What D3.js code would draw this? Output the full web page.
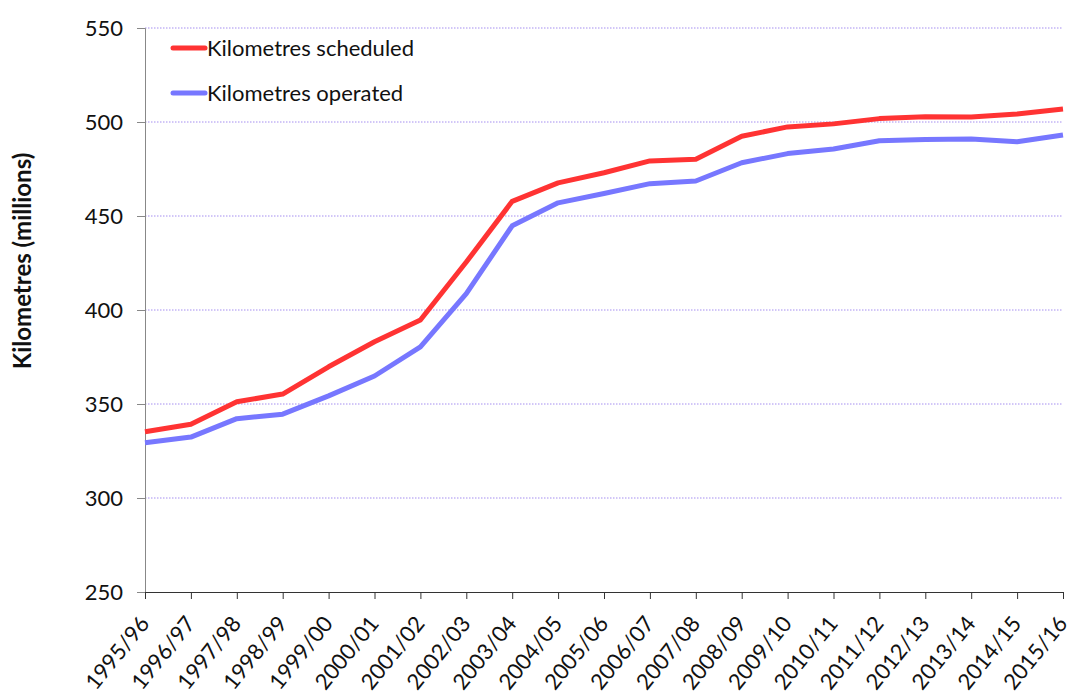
<!DOCTYPE html>
<html><head><meta charset="utf-8">
<script src="https://cdn.jsdelivr.net/npm/d3@7"></script>
<style>body{margin:0;background:#fff}svg{display:block}text{font-family:Lato,"Open Sans",sans-serif;fill:#111}</style>
</head><body><svg id="c" width="1071" height="693"></svg>
<script>
const categories=["1995/96","1996/97","1997/98","1998/99","1999/00","2000/01","2001/02","2002/03","2003/04","2004/05","2005/06","2006/07","2007/08","2008/09","2009/10","2010/11","2011/12","2012/13","2013/14","2014/15","2015/16"];
const scheduled=[335.2,339.2,351.2,355.3,369.8,383.1,394.7,425.5,457.8,467.6,473.0,479.3,480.2,492.4,497.4,499.0,501.8,502.8,502.7,504.3,506.9];
const operated=[329.4,332.4,342.2,344.6,354.3,364.9,380.4,408.7,444.8,457.0,462.0,467.2,468.6,478.3,483.2,485.6,490.0,490.7,491.0,489.5,493.1];
const yTicks=[250,300,350,400,450,500,550];
const seriesNames=["Kilometres scheduled","Kilometres operated"];
const colors=["#ff3333","#7777ff"];

const svg=d3.select("#c");
const m={l:145,r:1063,t:28,b:592};
const x=d3.scalePoint().domain(categories).range([m.l,m.r]);
const y=d3.scaleLinear().domain([250,550]).range([m.b,m.t]);

// grid
svg.append("g").selectAll("line").data(yTicks.filter(d=>d>250)).join("line")
 .attr("x1",m.l).attr("x2",m.r).attr("y1",d=>y(d)).attr("y2",d=>y(d))
 .attr("stroke","#a58ef0").attr("stroke-width",1).attr("stroke-dasharray","1.5,1.5");

// y axis
const ya=svg.append("g").attr("transform",`translate(${m.l},0)`)
 .call(d3.axisLeft(y).tickValues(yTicks).tickSize(8).tickPadding(14));
ya.select(".domain").attr("stroke","#888");
ya.selectAll(".tick line").attr("stroke","#888");
ya.selectAll(".tick text").style("font-size","22px").attr("fill","#111");

// x axis
const xa=svg.append("g").attr("transform",`translate(0,${m.b})`)
 .call(d3.axisBottom(x).tickSize(7).tickSizeOuter(0));
xa.select(".domain").attr("stroke","#333");
xa.selectAll(".tick line").attr("stroke","#333");
xa.selectAll(".tick text").style("font-size","22px").attr("fill","#111")
 .attr("text-anchor","end").attr("dy",null).attr("y",0)
 .attr("transform","translate(5,32) rotate(-51)");

// y title
svg.append("text").attr("transform","translate(31,261) rotate(-90)")
 .attr("text-anchor","middle").style("font-size","24px").style("font-weight","bold")
 .text("Kilometres (millions)");

// lines
const line=d3.line().x((d,i)=>x(categories[i])).y(d=>y(d));
[scheduled,operated].forEach((s,i)=>{
 svg.append("path").datum(s).attr("d",line).attr("fill","none")
  .attr("stroke",colors[i]).attr("stroke-width",5).attr("stroke-linejoin","round");
});

// legend
const lg=svg.append("g");
seriesNames.forEach((n,i)=>{
 const yy=48+i*45;
 lg.append("line").attr("x1",173).attr("x2",205).attr("y1",yy).attr("y2",yy)
  .attr("stroke",colors[i]).attr("stroke-width",5).attr("stroke-linecap","round");
 lg.append("text").attr("x",207).attr("y",yy+8).style("font-size","22px").text(n);
});
</script></body></html>
